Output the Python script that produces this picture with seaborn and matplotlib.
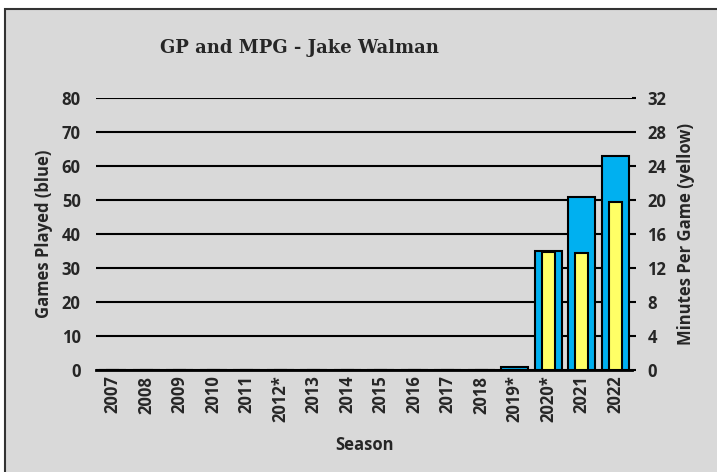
import matplotlib

matplotlib.use("Agg")
import matplotlib.pyplot as plt
import numpy as np
import pandas as pd
import seaborn as sns

temporadas = ["2007", "2008", "2009", "2010", "2011", "2012*", "2013", "2014",
              "2015", "2016", "2017", "2018", "2019*", "2020*", "2021", "2022"]
juegos = [0, 0, 0, 0, 0, 0, 0, 0, 0, 0, 0, 0, 1, 35, 51, 63]
minutos = [0, 0, 0, 0, 0, 0, 0, 0, 0, 0, 0, 0, 0, 13.9, 13.8, 19.8]

gp_ticks = [0, 10, 20, 30, 40, 50, 60, 70, 80]
mpg_ticks = [0, 4, 8, 12, 16, 20, 24, 28, 32]

azul = "#00B0F0"
amarillo = "#FFFF66"
fondo = "#D9D9D9"

df = pd.DataFrame({"temporada": temporadas, "gp": juegos, "mpg": minutos})

sns.set_style("white")
plt.rcParams["font.family"] = ["Open Sans", "DejaVu Sans"]
plt.rcParams["font.weight"] = "bold"

fig = plt.figure(figsize=(7.17, 4.72), dpi=100)
fig.patch.set_facecolor("white")
# fondo gris con borde
fig.patches.append(plt.Rectangle((5 / 717, -0.05), 1.05, 1 - 9 / 472 + 0.05,
                                 transform=fig.transFigure, facecolor=fondo,
                                 edgecolor="#333333", linewidth=1.5, zorder=-10))

ax = fig.add_axes([96 / 717, 1 - 370 / 472, 536 / 717, 272 / 472])
ax.set_facecolor("none")
sns.barplot(data=df, x="temporada", y="gp", color=azul, width=0.8,
            edgecolor="black", linewidth=1.5, saturation=1, ax=ax, zorder=3)
ax.set_ylim(0, 80)
ax.set_yticks(gp_ticks)
ax.yaxis.grid(True, color="black", linewidth=1.5, zorder=0)
ax.set_axisbelow(True)
for s in ["left", "right", "top"]:
    ax.spines[s].set_visible(False)
ax.spines["bottom"].set_color("black")
ax.spines["bottom"].set_linewidth(2)
ax.tick_params(axis="y", length=0, pad=11, labelsize=12)
ax.tick_params(axis="x", length=0, pad=4, labelsize=12, labelrotation=90)
ax.set_xlabel("Season", fontsize=12, fontweight="bold", labelpad=10)
ax.set_ylabel("Games Played (blue)", fontsize=12, fontweight="bold", labelpad=6)

ax2 = ax.twinx()
sns.barplot(data=df, x="temporada", y="mpg", color=amarillo, width=0.38,
            edgecolor="black", linewidth=1.5, saturation=1, ax=ax2, zorder=4)
ax2.set_ylim(0, 32)
ax2.set_yticks(mpg_ticks)
for s in ["left", "right", "top", "bottom"]:
    ax2.spines[s].set_visible(False)
ax2.tick_params(axis="y", length=3, width=1.5, color="black", pad=8, labelsize=12)
ax2.set_ylabel("Minutes Per Game (yellow)", fontsize=12, fontweight="bold", labelpad=8)
ax2.set_xlabel("")

fig.text(299 / 717, 1 - 48 / 472, "GP and MPG - Jake Walman", ha="center", va="center",
         fontsize=13, fontweight="bold", family="DejaVu Serif")

plt.savefig("out.png", dpi=100)
